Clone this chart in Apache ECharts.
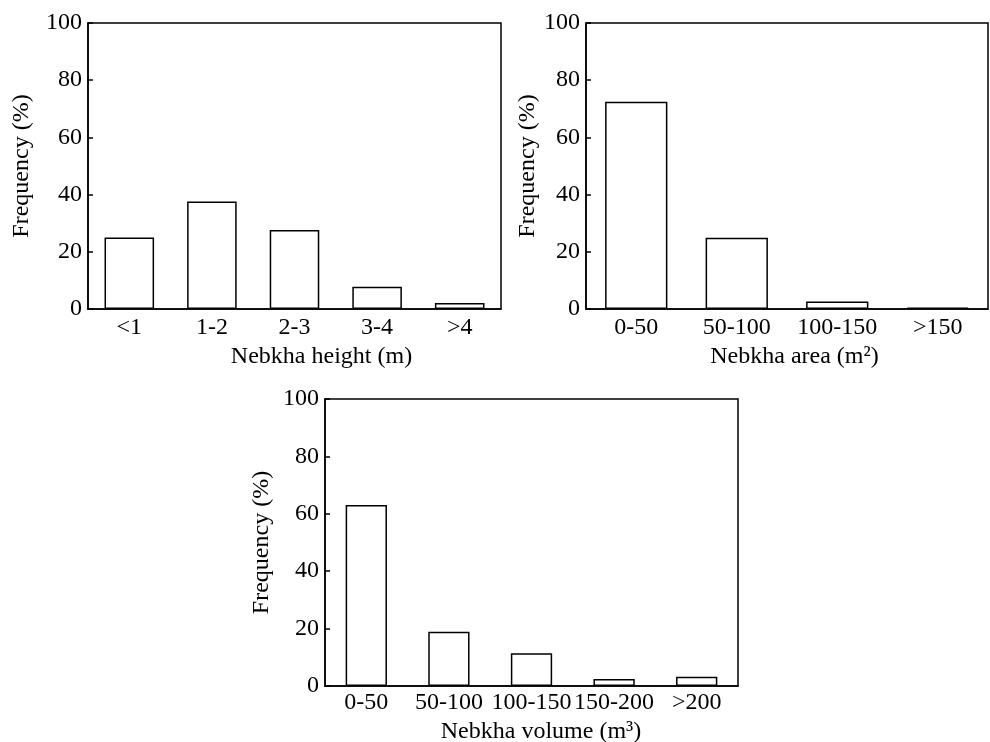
<!DOCTYPE html>
<html>
<head>
<meta charset="utf-8">
<script src="https://cdn.jsdelivr.net/npm/echarts@6/dist/echarts.min.js"></script>
<style>
  html, body { margin: 0; padding: 0; background: #fff; }
  #main { width: 990px; height: 742px; }
</style>
</head>
<body>
<div id="main"></div>
<script>
// frequency (%) per class
var heightCats = ['<1', '1-2', '2-3', '3-4', '>4'];
var heightFreq = [25.0, 37.6, 27.6, 7.8, 2.1];

var areaCats = ['0-50', '50-100', '100-150', '>150'];
var areaFreq = [72.5, 24.9, 2.6, 0.5];

var volumeCats = ['0-50', '50-100', '100-150', '150-200', '>200'];
var volumeFreq = [63.1, 18.9, 11.4, 2.4, 3.2];

var yMin = 0, yMax = 100, yStep = 20;

var font = 'Liberation Serif';
var fs = 24;

var grids = [
  { left: 88, top: 23, width: 413, height: 286 },
  { left: 586, top: 23, width: 402, height: 286 },
  { left: 325, top: 399, width: 413, height: 287 }
];

var xNames = ['Nebkha height (m)', 'Nebkha area (m²)', 'Nebkha volume (m³)'];
var xNameShift = [54, 15, 19];   // names sit a bit right of centre
var xNameGap = [36, 36, 34];
var yNameGap = [54, 44, 51];
var labelMargin = [7, 7, 5];
var catGap = ['40%', '38%', '50%'];
var cats = [heightCats, areaCats, volumeCats];
var freqs = [heightFreq, areaFreq, volumeFreq];

var myChart = echarts.init(document.getElementById('main'));

var option = {
  backgroundColor: '#fff',
  animation: false,
  grid: grids.map(function(g) {
    return Object.assign({
      show: true,
      borderColor: '#000',
      borderWidth: 1.5,
      backgroundColor: 'transparent',
      containLabel: false,
      outerBoundsMode: 'none'
    }, g);
  }),
  xAxis: cats.map(function(c, i) {
    return {
      type: 'category',
      gridIndex: i,
      data: c,
      name: xNames[i],
      nameLocation: 'middle',
      nameGap: xNameGap[i],
      nameTextStyle: { fontFamily: font, fontSize: fs, color: '#000', padding: [0, 0, 0, xNameShift[i]] },
      axisLine: { show: true, lineStyle: { color: '#000', width: 1.5 } },
      axisTick: { show: false },
      axisLabel: { fontFamily: font, fontSize: fs, color: '#000', margin: labelMargin[i], interval: 0 },
      splitLine: { show: false }
    };
  }),
  yAxis: cats.map(function(c, i) {
    return {
      type: 'value',
      gridIndex: i,
      min: yMin,
      max: yMax,
      interval: yStep,
      name: 'Frequency (%)',
      nameLocation: 'middle',
      nameGap: yNameGap[i],
      nameTextStyle: { fontFamily: font, fontSize: fs, color: '#000' },
      axisLine: { show: true, lineStyle: { color: '#000', width: 1.5 } },
      axisTick: { show: true, inside: true, length: 5, lineStyle: { color: '#000', width: 1.5 } },
      axisLabel: { fontFamily: font, fontSize: fs, color: '#000', margin: 6 },
      splitLine: { show: false }
    };
  }),
  series: freqs.map(function(d, i) {
    return {
      type: 'bar',
      xAxisIndex: i,
      yAxisIndex: i,
      data: d,
      barCategoryGap: catGap[i],
      itemStyle: { color: '#fff', borderColor: '#000', borderWidth: 1.5 }
    };
  })
};

myChart.setOption(option);
</script>
</body>
</html>
